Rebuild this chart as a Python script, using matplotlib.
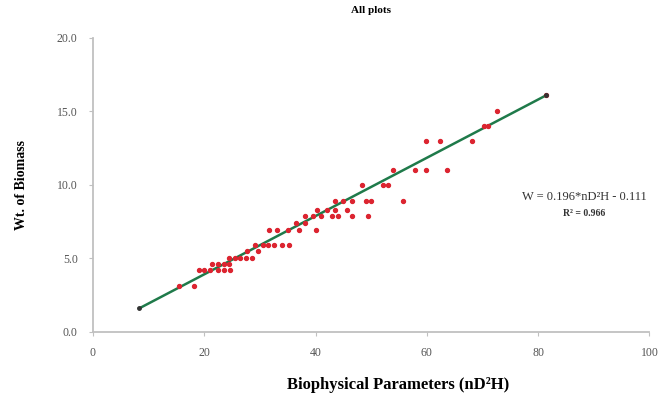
import matplotlib
matplotlib.use("Agg")
import matplotlib.pyplot as plt

plt.rcParams['font.family'] = ['Liberation Serif', 'DejaVu Serif']

# Biophysical parameter (nD2H) and biomass
bio_x = [15.4, 18.1,
         19.0, 20.0, 21.0, 22.5, 23.5, 24.6,
         21.4, 22.5, 23.5, 24.4,
         24.4, 25.5, 26.5, 27.5, 28.6,
         27.6, 29.7,
         29.2, 30.5, 31.5, 32.5, 34.0, 35.2,
         31.7, 33.0, 35.0, 37.0, 40.0,
         36.5, 38.1,
         38.1, 39.5, 41.0, 42.9, 44.0, 46.5, 49.5,
         40.3, 42.0, 43.5, 45.6,
         43.5, 45.0, 46.5, 49.0, 50.0, 55.7,
         48.3, 52.2, 53.0,
         54.0, 57.9, 59.8, 63.6,
         59.8, 62.3, 68.2,
         70.3, 71.0,
         72.6,
         81.5]
wt = [3.1, 3.1,
      4.2, 4.2, 4.2, 4.2, 4.2, 4.2,
      4.6, 4.6, 4.6, 4.6,
      5.0, 5.0, 5.0, 5.0, 5.0,
      5.5, 5.5,
      5.9, 5.9, 5.9, 5.9, 5.9, 5.9,
      6.9, 6.9, 6.9, 6.9, 6.9,
      7.4, 7.4,
      7.9, 7.9, 7.9, 7.9, 7.9, 7.9, 7.9,
      8.3, 8.3, 8.3, 8.3,
      8.9, 8.9, 8.9, 8.9, 8.9, 8.9,
      10.0, 10.0, 10.0,
      11.0, 11.0, 11.0, 11.0,
      13.0, 13.0, 13.0,
      14.0, 14.0,
      15.0,
      16.1]

# Trend line end points
trend_x = [8.3, 81.5]
trend_y = [1.6, 16.1]

x_ticks = [0, 20, 40, 60, 80, 100]
y_ticks = [0, 5, 10, 15, 20]

fig = plt.figure(figsize=(6.64, 3.98), dpi=100)
ax = fig.add_axes([0.140, 0.166, 0.838, 0.739])

ax.scatter(bio_x, wt, s=8, color='#dc2430', zorder=3)
ax.plot(trend_x, trend_y, color='#1f7a4a', lw=1.8, zorder=2)
ax.plot(trend_x, trend_y, 'o', color='#333333', ms=2.5, zorder=4)

ax.set_xlim(0, 100)
ax.set_ylim(0, 20)
ax.set_xticks(x_ticks)
ax.set_yticks(y_ticks)
ax.set_yticklabels(['%.1f' % v for v in y_ticks])

for s in ['top', 'right']:
    ax.spines[s].set_visible(False)
for s in ['left', 'bottom']:
    ax.spines[s].set_color('#c0c0c0')
    ax.spines[s].set_linewidth(1.3)
ax.tick_params(colors='#c0c0c0', labelcolor='#555555', labelsize=8.5,
               length=3)
ax.tick_params(axis='x', pad=8)
ax.tick_params(axis='y', pad=8)

ax.set_title('All plots', fontsize=8, fontweight='bold', pad=18)
fig.text(0.032, 0.535, 'Wt. of Biomass', rotation=90, fontsize=10,
         fontweight='bold', ha='center', va='center')
fig.text(0.60, 0.033, 'Biophysical Parameters (nD²H)', fontsize=12,
         fontweight='bold', ha='center', va='center')

fig.text(0.880, 0.505, 'W = 0.196*nD²H - 0.111', fontsize=9,
         ha='center', va='center', color='#333333')
fig.text(0.880, 0.463, 'R² = 0.966', fontsize=7, fontweight='bold',
         ha='center', va='center', color='#333333')

fig.savefig('out.png', dpi=100)
